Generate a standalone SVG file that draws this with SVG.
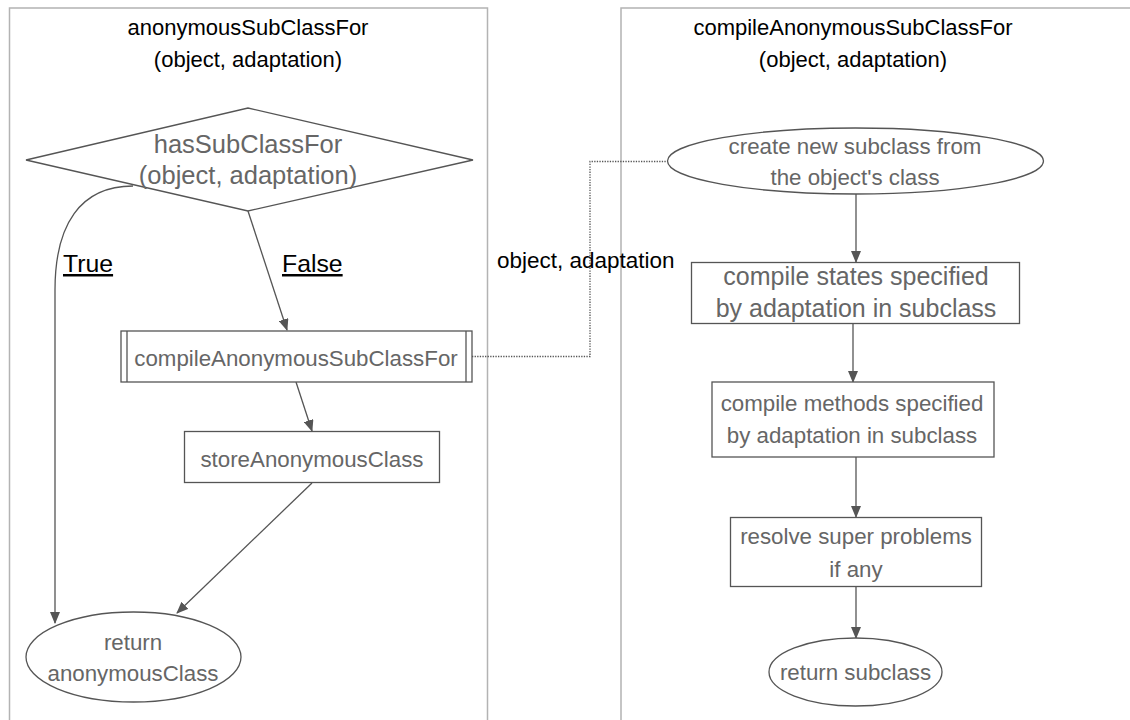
<svg xmlns="http://www.w3.org/2000/svg" width="1130" height="720" viewBox="0 0 1130 720">
<style>
.panel{fill:#fff;stroke:#b3b3b3;stroke-width:1.5}
.node{fill:#fff;stroke:#555;stroke-width:1.3}
.t{font-family:"Liberation Sans",Arial,sans-serif;fill:#666;text-anchor:middle}
.title{font-family:"Liberation Sans",Arial,sans-serif;fill:#000;text-anchor:middle;font-size:22px}
.lbl{font-family:"Liberation Sans",Arial,sans-serif;fill:#000}
.e{fill:none;stroke:#555;stroke-width:1.3}
.dot{fill:none;stroke:#555;stroke-width:1.3;stroke-dasharray:1.3 1.3}
</style>
<defs>
<marker id="ah" markerWidth="12" markerHeight="10" refX="11" refY="5" orient="auto" markerUnits="userSpaceOnUse">
<path d="M0,0 L12,5 L0,10 Z" fill="#555"/>
</marker>
</defs>
<rect width="1130" height="720" fill="#fff"/>
<g id="panel-left">
<rect class="panel" x="9.5" y="8" width="478" height="730"/>
<text class="title" x="248" y="35">anonymousSubClassFor</text>
<text class="title" x="248" y="67">(object, adaptation)</text>
</g>
<g id="panel-right">
<rect class="panel" x="621" y="8" width="530" height="730"/>
<text class="title" x="853" y="35">compileAnonymousSubClassFor</text>
<text class="title" x="853" y="67">(object, adaptation)</text>
</g>
<g id="connectors">
<path class="e" d="M133,186 C80,186 55,225 55,290 L55,623" marker-end="url(#ah)"/>
<path class="e" d="M248,211 L287,330" marker-end="url(#ah)"/>
<path class="e" d="M296,382 L312,431" marker-end="url(#ah)"/>
<path class="e" d="M312,483 L177,613" marker-end="url(#ah)"/>
<path class="dot" d="M472,356.5 L590,356.5 L590,161.5 L667,161.5"/>
<path class="e" d="M856,194 L856,262" marker-end="url(#ah)"/>
<path class="e" d="M853,324 L853,382" marker-end="url(#ah)"/>
<path class="e" d="M856,457 L856,517" marker-end="url(#ah)"/>
<path class="e" d="M856,587 L856,638" marker-end="url(#ah)"/>
<text class="lbl" x="63" y="272" text-decoration="underline" font-size="24.8">True</text>
<text class="lbl" x="282" y="272" text-decoration="underline" font-size="24.8">False</text>
<text class="lbl" x="497" y="268" font-size="22.5">object, adaptation</text>
</g>
<g id="hasSubClassFor">
<polygon class="node" points="26,160 248,108 473,160 248,211"/>
<text class="t" x="248" y="153" font-size="25.5">hasSubClassFor</text>
<text class="t" x="248" y="184" font-size="25.5">(object, adaptation)</text>
</g>
<g id="compileAnonymousSubClassFor">
<rect class="node" x="121" y="331" width="351" height="51"/>
<line class="node" x1="127" y1="331" x2="127" y2="382"/>
<line class="node" x1="466" y1="331" x2="466" y2="382"/>
<text class="t" x="296" y="366" font-size="22.3">compileAnonymousSubClassFor</text>
</g>
<g id="storeAnonymousClass">
<rect class="node" x="184.5" y="431.5" width="255" height="51"/>
<text class="t" x="312" y="467" font-size="22.3">storeAnonymousClass</text>
</g>
<g id="returnAnonymousClass">
<ellipse class="node" cx="133.5" cy="657" rx="107.5" ry="45"/>
<text class="t" x="133" y="650" font-size="22.3">return</text>
<text class="t" x="133" y="681" font-size="22.3">anonymousClass</text>
</g>
<g id="createSubclass">
<ellipse class="node" cx="855.5" cy="161" rx="188" ry="33"/>
<text class="t" x="855" y="154" font-size="22.3">create new subclass from</text>
<text class="t" x="855" y="185" font-size="22.3">the object's class</text>
</g>
<g id="compileStates">
<rect class="node" x="691.5" y="262.5" width="328" height="61"/>
<text class="t" x="856" y="285" font-size="25">compile states specified</text>
<text class="t" x="856" y="317" font-size="25">by adaptation in subclass</text>
</g>
<g id="compileMethods">
<rect class="node" x="712" y="382" width="282" height="75"/>
<text class="t" x="852" y="411" font-size="22.3">compile methods specified</text>
<text class="t" x="852" y="443" font-size="22.3">by adaptation in subclass</text>
</g>
<g id="resolveSuper">
<rect class="node" x="730.5" y="517.5" width="251" height="69"/>
<text class="t" x="856" y="544" font-size="22.3">resolve super problems</text>
<text class="t" x="856" y="577" font-size="22.3">if any</text>
</g>
<g id="returnSubclass">
<ellipse class="node" cx="855.5" cy="672" rx="86.5" ry="34"/>
<text class="t" x="855.5" y="680" font-size="22.3">return subclass</text>
</g>
</svg>
